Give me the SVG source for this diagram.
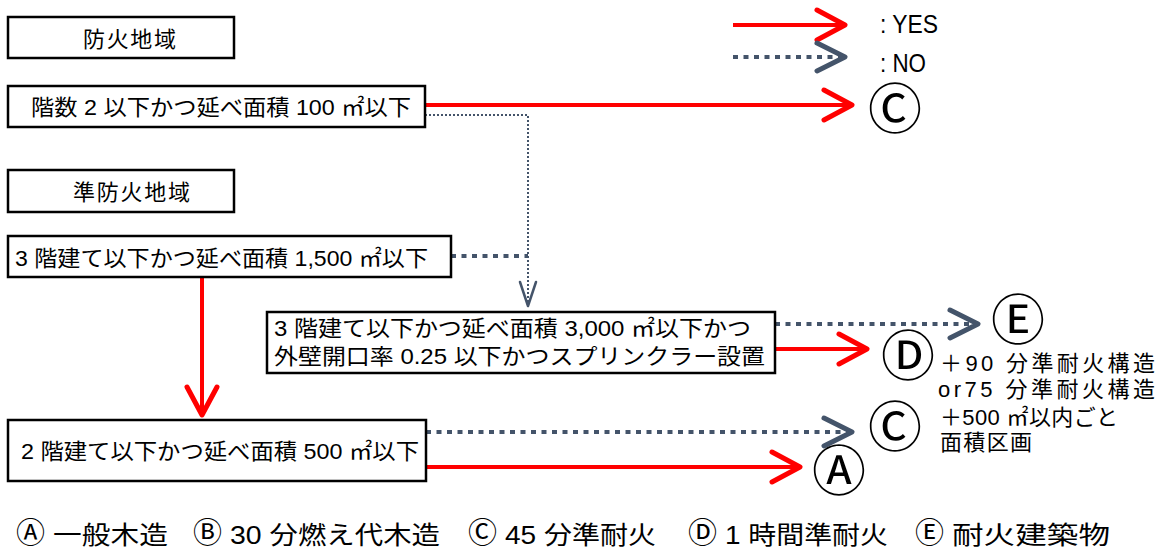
<svg xmlns="http://www.w3.org/2000/svg" width="1164" height="551" viewBox="0 0 1164 551">
<style>
.box{fill:#fff;stroke:#000;stroke-width:2.5}
.t{font-family:"Liberation Sans","Noto Sans CJK JP","Noto Sans CJK SC",sans-serif;font-size:22px;fill:#000}
.circ{font-family:"Liberation Sans","Noto Sans CJK JP",sans-serif;font-size:54px;fill:#000;text-anchor:middle}
.red{stroke:#FF0000;stroke-width:4;fill:none}
.dot{stroke:#44546A;stroke-width:4;stroke-dasharray:5 5.5;fill:none}
.thin{stroke:#44546A;stroke-width:2;stroke-dasharray:2 2;fill:none}
.lat{font-family:"Liberation Sans",sans-serif;font-size:26px;fill:#000}
.bl{font-family:"Liberation Sans","Noto Sans CJK JP",sans-serif;font-size:25px;fill:#000}
.bc{font-family:"Liberation Sans","Noto Sans CJK JP",sans-serif;font-size:29px;fill:#000}
</style>
<defs>
<marker id="mr" markerUnits="userSpaceOnUse" markerWidth="40" markerHeight="40" orient="auto" refX="0" refY="0" overflow="visible"><path d="M-28,-15 L0,0 L-28,15" fill="none" stroke="#FF0000" stroke-width="5" stroke-linecap="round" stroke-linejoin="round"/></marker>
<marker id="mg" markerUnits="userSpaceOnUse" markerWidth="40" markerHeight="40" orient="auto" refX="0" refY="0" overflow="visible"><path d="M-28,-14 L0,0 L-28,14" fill="none" stroke="#44546A" stroke-width="5" stroke-linecap="round" stroke-linejoin="round"/></marker>
<marker id="mt" markerUnits="userSpaceOnUse" markerWidth="40" markerHeight="40" orient="auto" refX="0" refY="0" overflow="visible"><path d="M-24,-8 L0,0 L-24,8" fill="none" stroke="#44546A" stroke-width="2.5" stroke-linecap="round" stroke-linejoin="round"/></marker>
</defs>
<rect width="1164" height="551" fill="#fff"/>

<g id="connectors">
<line class="red" x1="733" y1="25" x2="845" y2="25" marker-end="url(#mr)"/>
<line class="dot" x1="733" y1="57" x2="845" y2="57" marker-end="url(#mg)"/>
<line class="red" x1="425" y1="105" x2="852" y2="105" marker-end="url(#mr)"/>
<path class="thin" d="M425,115 H528 V306" marker-end="url(#mt)"/>
<line class="dot" x1="451" y1="256" x2="528" y2="256"/>
<line class="red" x1="202" y1="277" x2="202" y2="415" marker-end="url(#mr)"/>
<line class="dot" x1="775" y1="324" x2="978" y2="324" marker-end="url(#mg)"/>
<line class="red" x1="775" y1="349" x2="867" y2="349" marker-end="url(#mr)"/>
<line class="dot" x1="426" y1="432" x2="852" y2="432" marker-end="url(#mg)"/>
<line class="red" x1="426" y1="467" x2="800" y2="467" marker-end="url(#mr)"/>
</g>

<g id="legend">
<text class="lat" x="880" y="33" textLength="58" lengthAdjust="spacingAndGlyphs">:  YES</text>
<text class="lat" x="880" y="72" textLength="46" lengthAdjust="spacingAndGlyphs">:  NO</text>
</g>

<g id="n-boukachiiki">
<rect class="box" x="8" y="17" width="226" height="41"/>
<text class="t" x="83" y="47" textLength="93">防火地域</text>
</g>
<g id="n-q1">
<rect class="box" x="8" y="86" width="417" height="41"/>
<text class="t" x="31" y="115" textLength="380" lengthAdjust="spacingAndGlyphs">階数 2 以下かつ延べ面積 100 ㎡以下</text>
</g>
<g id="n-junboukachiiki">
<rect class="box" x="8" y="170" width="226" height="42"/>
<text class="t" x="73" y="200" textLength="117">準防火地域</text>
</g>
<g id="n-q2">
<rect class="box" x="8" y="236" width="443" height="41"/>
<text class="t" x="15" y="266" textLength="413" lengthAdjust="spacingAndGlyphs">3 階建て以下かつ延べ面積 1,500 ㎡以下</text>
</g>
<g id="n-q3">
<rect class="box" x="267" y="312" width="508" height="61"/>
<text class="t" x="274" y="336" textLength="477" lengthAdjust="spacingAndGlyphs">3 階建て以下かつ延べ面積 3,000 ㎡以下かつ</text>
<text class="t" x="274" y="364" textLength="491" lengthAdjust="spacingAndGlyphs">外壁開口率 0.25 以下かつスプリンクラー設置</text>
</g>
<g id="n-q4">
<rect class="box" x="8" y="420" width="418" height="61"/>
<text class="t" x="21" y="459" textLength="398" lengthAdjust="spacingAndGlyphs">2 階建て以下かつ延べ面積 500 ㎡以下</text>
</g>

<g id="r-c1"><text class="circ" x="895" y="129">Ⓒ</text></g>
<g id="r-e"><text class="circ" x="1018" y="340">Ⓔ</text></g>
<g id="r-d"><text class="circ" x="908" y="376">Ⓓ</text></g>
<g id="r-c2"><text class="circ" x="895" y="447">Ⓒ</text></g>
<g id="r-a"><text class="circ" x="839" y="491">Ⓐ</text></g>

<g id="note">
<text class="t" x="940" y="371" textLength="215">＋90  分準耐火構造</text>
<text class="t" x="938" y="397" textLength="217">or75  分準耐火構造</text>
<text class="t" x="940" y="425" textLength="178">＋500 ㎡以内ごと</text>
<text class="t" x="940" y="450" textLength="92">面積区画</text>
</g>

<g id="bottom-legend">
<text class="bc" x="16" y="543">Ⓐ</text><text class="bl" x="53" y="544" textLength="115" lengthAdjust="spacingAndGlyphs">一般木造</text>
<text class="bc" x="193" y="543">Ⓑ</text><text class="bl" x="230" y="544" textLength="210" lengthAdjust="spacingAndGlyphs">30 分燃え代木造</text>
<text class="bc" x="468" y="543">Ⓒ</text><text class="bl" x="505" y="544" textLength="151" lengthAdjust="spacingAndGlyphs">45 分準耐火</text>
<text class="bc" x="688" y="543">Ⓓ</text><text class="bl" x="725" y="544" textLength="163" lengthAdjust="spacingAndGlyphs">1 時間準耐火</text>
<text class="bc" x="915" y="543">Ⓔ</text><text class="bl" x="952" y="544" textLength="158" lengthAdjust="spacingAndGlyphs">耐火建築物</text>
</g>
</svg>
